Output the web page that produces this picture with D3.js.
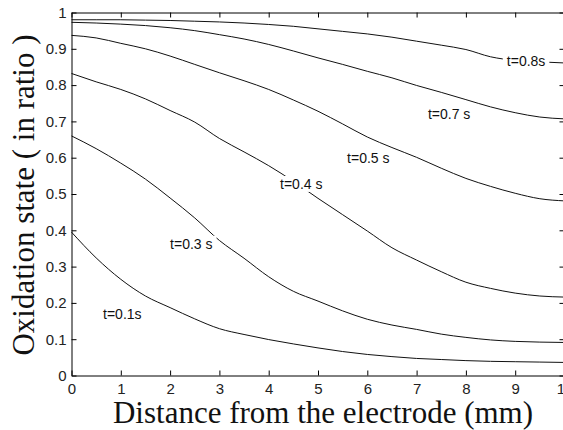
<!DOCTYPE html>
<html>
<head>
<meta charset="utf-8">
<script src="https://cdn.jsdelivr.net/npm/d3@7"></script>
<style>
  body { margin: 0; background: #fff; }
  svg { display: block; }
</style>
</head>
<body>
<div id="plot_area"></div>
<script>

// distance from the electrode (mm)
var xs = [0, 0.5, 1, 1.5, 2, 2.5, 3, 3.5, 4, 4.5, 5, 5.5, 6, 6.5, 7, 7.5, 8, 8.5, 9, 9.5, 10];

// oxidation state for each time
var t01 = [0.395, 0.324, 0.265, 0.219, 0.187, 0.156, 0.129, 0.113, 0.099, 0.087, 0.076, 0.066, 0.058, 0.052, 0.047, 0.044, 0.041, 0.039, 0.038, 0.037, 0.036];
var t03 = [0.66, 0.625, 0.585, 0.541, 0.489, 0.434, 0.372, 0.323, 0.272, 0.232, 0.205, 0.178, 0.155, 0.139, 0.127, 0.114, 0.105, 0.098, 0.094, 0.092, 0.091];
var t04 = [0.832, 0.809, 0.788, 0.762, 0.73, 0.698, 0.653, 0.616, 0.578, 0.535, 0.488, 0.443, 0.398, 0.352, 0.318, 0.286, 0.257, 0.24, 0.227, 0.219, 0.216];
var t05 = [0.937, 0.93, 0.915, 0.9, 0.88, 0.857, 0.834, 0.812, 0.788, 0.759, 0.728, 0.693, 0.657, 0.628, 0.601, 0.571, 0.543, 0.521, 0.502, 0.487, 0.481];
var t07 = [0.973, 0.971, 0.968, 0.964, 0.958, 0.95, 0.939, 0.927, 0.912, 0.894, 0.875, 0.857, 0.838, 0.82, 0.799, 0.78, 0.76, 0.74, 0.724, 0.712, 0.707];
var t08 = [0.98, 0.98, 0.98, 0.979, 0.978, 0.976, 0.974, 0.971, 0.967, 0.962, 0.955, 0.948, 0.941, 0.932, 0.921, 0.91, 0.898, 0.878, 0.868, 0.864, 0.861];

// curve labels and where they sit (data coords, left/baseline)
var labelText = ["t=0.1s", "t=0.3 s", "t=0.4 s", "t=0.5 s", "t=0.7 s", "t=0.8s"];
var labelX = [0.64, 2.0, 4.23, 5.59, 7.23, 8.83];
var labelY = [0.156, 0.349, 0.514, 0.585, 0.707, 0.853];

var xTicks = [0, 1, 2, 3, 4, 5, 6, 7, 8, 9, 10];
var yTicks = [0, 0.1, 0.2, 0.3, 0.4, 0.5, 0.6, 0.7, 0.8, 0.9, 1];

var width = 563, height = 430;

var Svg = d3.select("#plot_area")
  .append("svg")
    .attr("width", width)
    .attr("height", height);

// the right edge of the box falls just off the picture
var x = d3.scaleLinear().domain([0, 10]).range([71.5, 564.5]);
var y = d3.scaleLinear().domain([0, 1]).range([375.5, 12.5]);

// curves
var series = [t01, t03, t04, t05, t07, t08];
var line = d3.line()
  .x(function(d, i) { return x(xs[i]); })
  .y(function(d) { return y(d); })
  .curve(d3.curveMonotoneX);

Svg.selectAll(".curve")
  .data(series)
  .enter()
  .append("path")
    .attr("class", "curve")
    .attr("d", line)
    .attr("fill", "none")
    .attr("stroke", "#111")
    .attr("stroke-width", 1);

// labels, each one knocks a hole in the line under it
var labels = Svg.selectAll(".lab")
  .data(labelText)
  .enter()
  .append("g")
    .attr("class", "lab");

labels.append("text")
  .attr("x", function(d, i) { return x(labelX[i]); })
  .attr("y", function(d, i) { return y(labelY[i]); })
  .style("font-family", "'Liberation Sans', Arial, sans-serif")
  .style("font-size", "14px")
  .attr("fill", "#111")
  .text(function(d) { return d; });

labels.each(function() {
  var g = d3.select(this);
  var b = g.select("text").node().getBBox();
  g.insert("rect", "text")
    .attr("x", b.x - 4)
    .attr("y", b.y)
    .attr("width", b.width + 8)
    .attr("height", b.height)
    .attr("fill", "#fff");
});

// axes, ticks pointing into the box on all four sides
var fontTick = "'Liberation Sans', Arial, sans-serif";

Svg.append("g")
  .attr("transform", "translate(0,375.5)")
  .call(d3.axisBottom(x).tickValues(xTicks).tickSizeInner(-5).tickSizeOuter(0).tickPadding(8)
    .tickFormat(function(d) { return String(d); }));

Svg.append("g")
  .attr("transform", "translate(0,12.5)")
  .call(d3.axisTop(x).tickValues(xTicks).tickSizeInner(-5).tickSizeOuter(0).tickFormat(""));

Svg.append("g")
  .attr("transform", "translate(71.5,0)")
  .call(d3.axisLeft(y).tickValues(yTicks).tickSizeInner(-5).tickSizeOuter(0).tickPadding(5)
    .tickFormat(function(d) { return String(d); }));

Svg.append("g")
  .attr("transform", "translate(564.5,0)")
  .call(d3.axisRight(y).tickValues(yTicks).tickSizeInner(-5).tickSizeOuter(0).tickFormat(""));

Svg.selectAll(".domain").attr("stroke", "#000");
Svg.selectAll(".tick line").attr("stroke", "#000");
Svg.selectAll(".tick text")
  .attr("fill", "#222")
  .style("font-family", fontTick)
  .style("font-size", "15px");

// axis titles
Svg.append("text")
  .attr("text-anchor", "middle")
  .attr("x", 323)
  .attr("y", 423)
  .style("font-family", "'Liberation Serif', 'Times New Roman', serif")
  .style("font-size", "31px")
  .attr("fill", "#111")
  .text("Distance from the electrode (mm)");

Svg.append("text")
  .attr("text-anchor", "middle")
  .attr("transform", "rotate(-90)")
  .attr("x", -195)
  .attr("y", 34)
  .style("font-family", "'Liberation Serif', 'Times New Roman', serif")
  .style("font-size", "31px")
  .attr("fill", "#111")
  .text("Oxidation state ( in ratio )");

</script>
</body>
</html>
